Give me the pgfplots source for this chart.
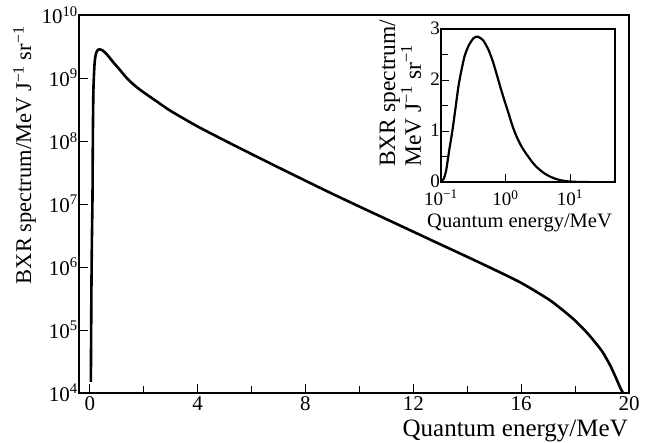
\documentclass[border=0pt]{standalone}
\usepackage{fontspec}
\setmainfont{Liberation Serif}
\usepackage{pgfplots}
\usepackage{pgfplotstable}
\pgfplotsset{compat=1.18}

% BXR spectrum (MeV, MeV J^-1 sr^-1)
\pgfplotstableread{
x y
0.04 1.5e4
0.06 4e5
0.08 3e6
0.10 1.2e7
0.11 6e7
0.12 2.2e8
0.134 6.2e8
0.15 1.0e9
0.17 1.5e9
0.19 1.94e9
0.23 2.45e9
0.27 2.68e9
0.32 2.82e9
0.37 2.85e9
0.45 2.78e9
0.55 2.58e9
0.65 2.33e9
0.87 1.78e9
1.12 1.34e9
1.3 1.08e9
1.5 8.8e8
1.75 7.1e8
2.0 5.9e8
2.5 4.2e8
3.0 3.0e8
4.0 1.7e8
5.0 1.02e8
6.0 6.2e7
7.0 3.8e7
8.0 2.34e7
9.0 1.45e7
10.0 9.1e6
11.0 5.75e6
12.0 3.63e6
13.0 2.29e6
14.0 1.45e6
15.0 9.1e5
16.0 5.6e5
17.0 3.1e5
17.5 2.14e5
18.0 1.41e5
18.5 8.5e4
19.0 4.6e4
19.3 2.75e4
19.5 1.8e4
19.7 1.15e4
19.78 1.0e4
}\spectrum

\pgfplotsset{
  bxr/.style={
    scale only axis,
    tick pos=left,
    axis line style={line width=1.2pt},
    tick style={line width=0.8pt, black},
    /pgf/number format/assume math mode=true,
  },
}

\begin{document}
\begin{tikzpicture}
\useasboundingbox (-79pt,-50pt) rectangle (574pt,393pt);
\begin{axis}[bxr,
  at={(0,0)}, anchor=south west,
  width=550pt, height=378pt,
  xmin=-0.4, xmax=20,
  ymode=log, log basis y=10, ymin=1e4, ymax=1e10,
  xtick={0,4,...,20}, minor xtick={2,6,...,18},
  ytick={1e4,1e5,1e6,1e7,1e8,1e9,1e10},
  yticklabels={10\textsuperscript{4},10\textsuperscript{5},10\textsuperscript{6},10\textsuperscript{7},10\textsuperscript{8},10\textsuperscript{9},10\textsuperscript{10}},
  major tick length=9pt, minor tick length=7pt,
  tick label style={font=\fontsize{21}{25}\selectfont},
  yticklabel style={inner sep=1pt},
  xlabel={Quantum energy/MeV},
  xlabel style={font=\fontsize{25}{30}\selectfont, inner sep=0pt,
    at={(axis description cs:1,0)}, anchor=north east, xshift=-1pt, yshift=-27pt},
  ylabel={BXR spectrum/MeV J\textsuperscript{−1} sr\textsuperscript{−1}},
  ylabel style={font=\fontsize{22.5}{27}\selectfont, inner sep=0pt,
    at={(axis description cs:-0.078,0.97)}, anchor=south east},
]
\addplot[black, line width=2.6pt, smooth, tension=0.4] table[x=x, y=y] {\spectrum};
\end{axis}

\begin{axis}[bxr,
  at={(362pt,211pt)}, anchor=south west,
  width=174pt, height=153pt,
  xmode=log, log basis x=10, xmin=0.1, xmax=50,
  ymin=0, ymax=3,
  xtick={0.1,1,10},
  xticklabels={10\textsuperscript{−1},10\textsuperscript{0},10\textsuperscript{1}},
  ytick={0,1,2,3}, minor y tick num=1,
  major tick length=8pt, minor tick length=7pt,
  tick label style={font=\fontsize{19}{22}\selectfont},
  xticklabel style={inner sep=0pt, yshift=-8pt},
  yticklabel style={inner sep=1pt, yshift=1pt},
  xlabel={Quantum energy/MeV},
  xlabel style={font=\fontsize{20.5}{24}\selectfont, inner sep=0pt,
    at={(axis description cs:0,0)}, anchor=north west, xshift=-14pt, yshift=-32pt},
  ylabel={BXR spectrum/\\MeV J\textsuperscript{−1} sr\textsuperscript{−1}},
  ylabel style={font=\fontsize{23.5}{23}\selectfont, inner sep=0pt, align=left,
    at={(axis description cs:-0.112,0.098)}, anchor=south west},
]
\addplot[black, line width=2.2pt, smooth, tension=0.4] table[x=x, y expr=\thisrow{y}/1e9] {\spectrum};
\end{axis}
\end{tikzpicture}
\end{document}
